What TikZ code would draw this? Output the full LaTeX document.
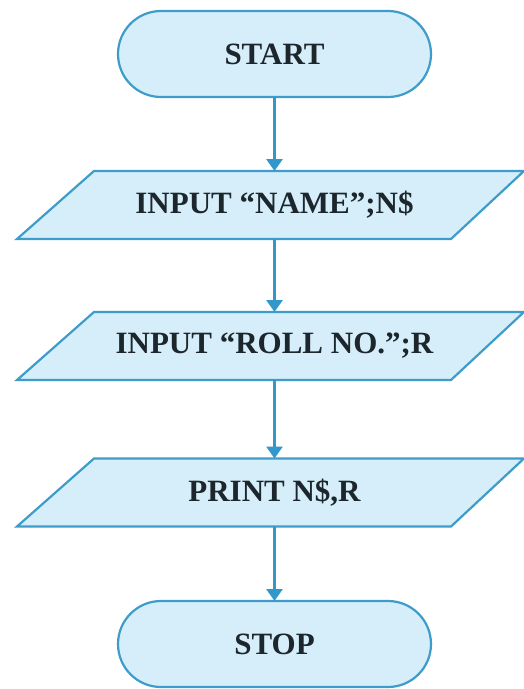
\documentclass[tikz,border=0pt]{standalone}
\usepackage{fontspec}
\setmainfont{Liberation Serif}
\usetikzlibrary{shapes.misc,arrows.meta}
\definecolor{edgeblue}{HTML}{3E9CCB}
\definecolor{fillblue}{HTML}{D5EEF9}
\definecolor{arrowblue}{HTML}{3298CB}
\definecolor{txt}{HTML}{1C262C}
\tikzset{
  label text/.style={text=txt, font=\fontsize{31}{31}\selectfont\bfseries},
  terminal/.style={rounded rectangle, rounded rectangle arc length=180, draw=edgeblue, fill=fillblue,
    line width=2.2pt, minimum width=313pt, minimum height=86pt, inner sep=0pt, outer sep=0pt, label text},
  iotext/.style={rectangle, minimum width=350pt, minimum height=68pt, inner sep=0pt, outer sep=0pt, label text},
  iobox/.style={draw=edgeblue, fill=fillblue, line width=2.2pt, line join=miter},
  flow/.style={draw=arrowblue, line width=2.8pt, -{Triangle[width=16pt,length=12pt]}}
}
\newcommand{\iopara}[1]{%
  \draw[iobox] ([xshift=-253.5pt]#1.south) -- ([xshift=-176.5pt]#1.north) --
    ([xshift=253.5pt]#1.north) -- ([xshift=180.5pt]#1.south) -- cycle;}
\begin{document}
\begin{tikzpicture}[x=1pt,y=-1pt]
\useasboundingbox (0,0) rectangle (524,689);
\fill[white] (0,0) rectangle (524,689);
\node[terminal] (start) at (274.5,54) {START};
\node[iotext] (b1) at (270.5,205) {};
\node[iotext] (b2) at (270.5,346) {};
\node[iotext] (b3) at (270.5,492.5) {};
\iopara{b1}
\iopara{b2}
\iopara{b3}
\node[label text, xshift=4pt] (t1) at (b1) {INPUT “NAME”;N\$};
\node[label text, xshift=4pt] (t2) at (b2) {INPUT “ROLL NO.”;R};
\node[label text, xshift=4pt] (t3) at (b3) {PRINT N\$,R};
\node[terminal] (stop) at (274.5,644) {STOP};
\draw[flow] (start.south) -- (start.south |- b1.north);
\draw[flow] (start.south |- b1.south) -- (start.south |- b2.north);
\draw[flow] (start.south |- b2.south) -- (start.south |- b3.north);
\draw[flow] (start.south |- b3.south) -- (stop.north);
\end{tikzpicture}
\end{document}
